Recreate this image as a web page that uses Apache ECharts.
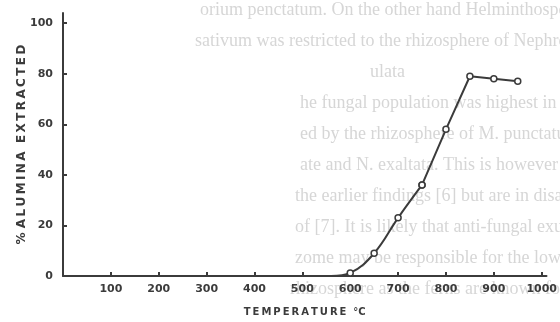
<!DOCTYPE html>
<html>
<head>
<meta charset="utf-8">
<script src="https://cdn.jsdelivr.net/npm/echarts@6/dist/echarts.min.js"></script>
<style>
  html, body { margin: 0; padding: 0; background: #fff; }
  #chart { width: 560px; height: 322px; }
</style>
</head>
<body>
<div id="chart"></div>
<script>
// 数据：温度 (°C) 与氧化铝提取率 (%)
// 低温段是平滑曲线，高温段是折线
const lowTemps = [560, 600, 650, 700, 750];
const lowAlumina = [0, 1.2, 9, 23, 36];
const highTemps = [750, 800, 850, 900, 950];
const highAlumina = [36, 58, 79, 78, 77];
const xTicks = [100, 200, 300, 400, 500, 600, 700, 800, 900, 1000];
const yTicks = [0, 20, 40, 60, 80, 100];

// 扫描件背面透过来的文字（淡灰色）
const ghostLines = [
    "orium penctatum. On the other hand Helminthosporium",
    "sativum was restricted to the rhizosphere of Nephrolepis",
    "ulata",
    "he fungal population was highest in non rhizosphere",
    "ed by the rhizosphere of M. punctatum, H. ",
    "ate and N. exaltata. This is however in conformity",
    "the earlier findings [6] but are in disagreement with",
    "of [7]. It is likely that anti-fungal exudates produced",
    "zome may be responsible for the low fungal population",
    "rhizosphere as the ferns are known for such antimicrobial",
];
const ghostX = [200, 195, 370, 300, 300, 300, 295, 295, 295, 290];

const ink = "#3b3b3b";
const spaced = (s) => s.split("").join("\u2009");
const labelFont = { fontFamily: "DejaVu Sans", fontWeight: "bold", fontSize: 11, color: ink };

const lineSeries = (temps, vals, smooth) => ({
    type: "line",
    data: temps.map((t, i) => [t, vals[i]]),
    smooth: smooth,
    symbol: "circle",
    symbolSize: (v) => (v[1] === 0 ? 0 : 6),
    lineStyle: { color: ink, width: 2 },
    itemStyle: { color: "#fff", borderColor: ink, borderWidth: 1.5 },
});

const chart = echarts.init(document.getElementById("chart"), null, { renderer: "canvas" });
chart.setOption({
    backgroundColor: "#fff",
    animation: false,
    graphic: ghostLines.map((t, i) => ({
        type: "text",
        left: ghostX[i],
        top: 1 + i * 31,
        z: -10,
        silent: true,
        style: { text: t, fill: "#d6d6d6", font: "18px 'Liberation Serif'" },
    })),
    grid: { left: 63, top: 13, width: 498, height: 263 },
    xAxis: {
        type: "value",
        min: 0, max: 1010,
        name: spaced("TEMPERATURE") + "  °C",
        nameLocation: "middle",
        nameGap: 31,
        nameMoveOverlap: false,
        nameTextStyle: { fontFamily: "DejaVu Sans", fontWeight: "bold", fontSize: 10, color: ink },
        splitLine: { show: false },
        axisLine: { lineStyle: { color: ink, width: 2 } },
        axisTick: { show: true, inside: true, length: 4, customValues: xTicks, lineStyle: { color: ink, width: 2 } },
        axisLabel: { ...labelFont, margin: 8, customValues: xTicks, formatter: (v) => String(v) },
    },
    yAxis: {
        type: "value",
        min: 0, max: 104,
        name: "% " + spaced("ALUMINA") + "  " + spaced("EXTRACTED"),
        nameLocation: "middle",
        nameGap: 35,
        nameMoveOverlap: false,
        nameRotate: 90,
        nameTextStyle: { fontFamily: "DejaVu Sans", fontWeight: "bold", fontSize: 12, color: ink },
        splitLine: { show: false },
        axisLine: { show: true, lineStyle: { color: ink, width: 2 } },
        axisTick: { show: true, inside: true, length: 4, customValues: yTicks.slice(1), lineStyle: { color: ink, width: 2 } },
        axisLabel: { ...labelFont, margin: 10, customValues: yTicks },
    },
    series: [
        lineSeries(lowTemps, lowAlumina, 0.4),
        lineSeries(highTemps, highAlumina, false),
    ],
});
</script>
</body>
</html>
